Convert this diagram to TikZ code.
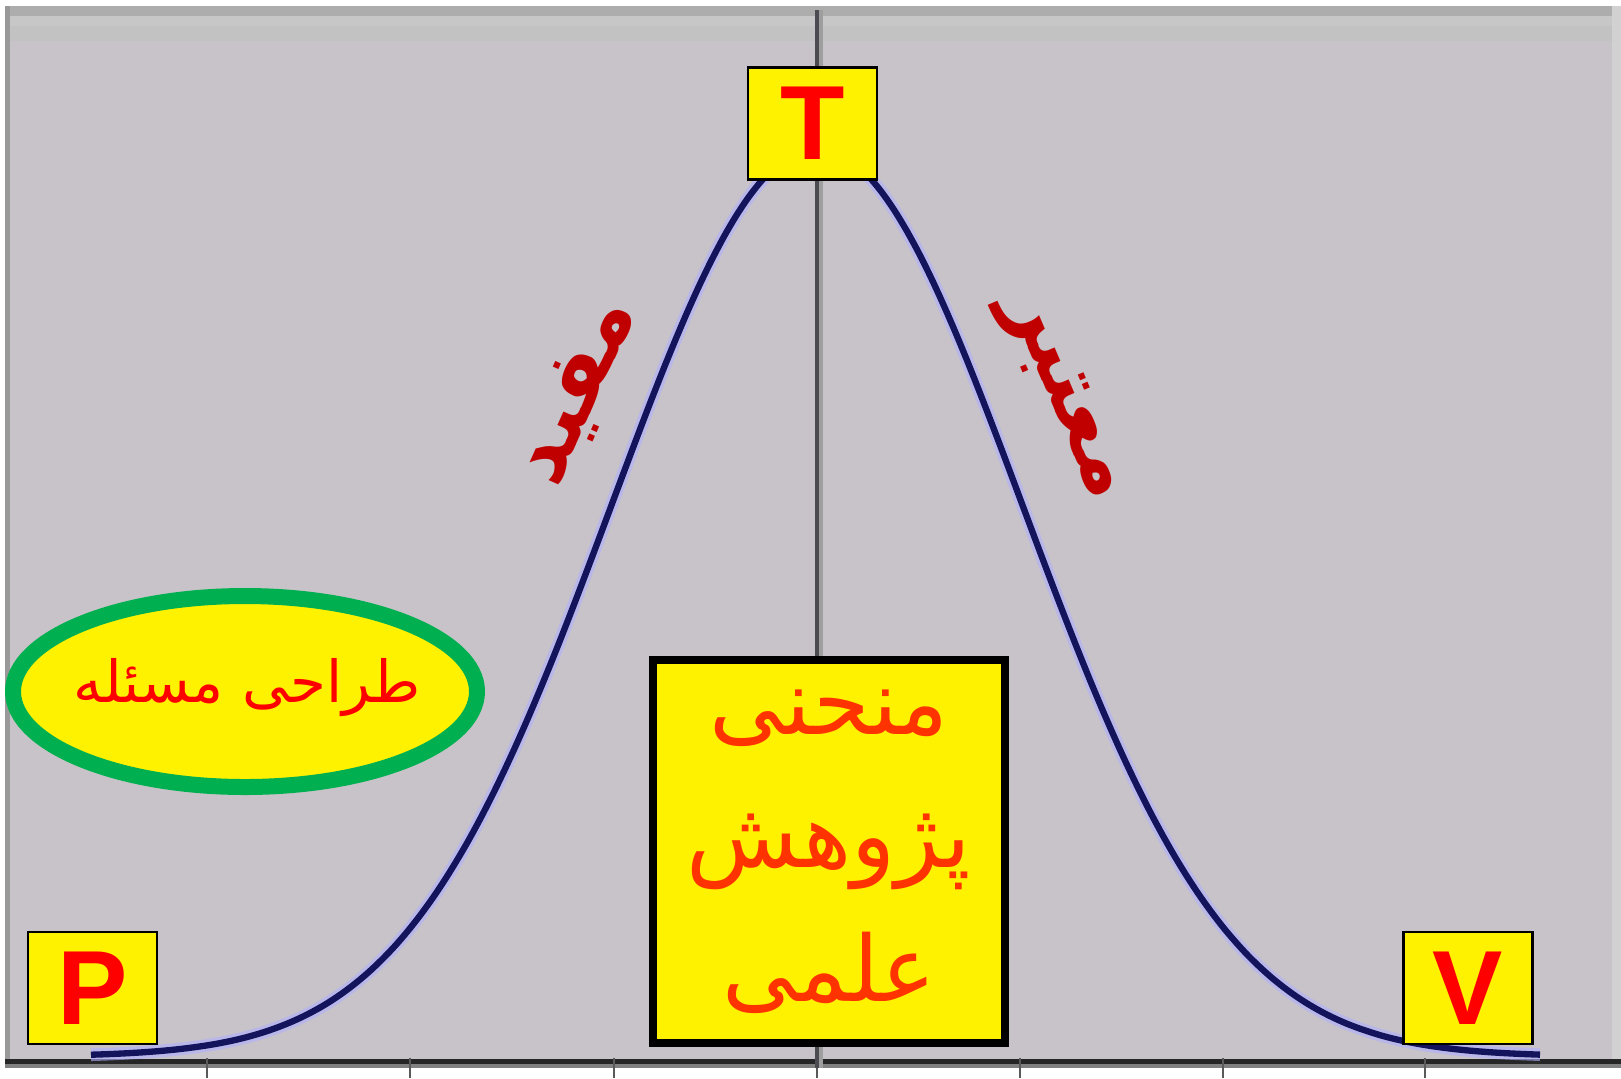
\documentclass[tikz,border=0pt]{standalone}
\usepackage{fontspec}
\usepackage{tikz}
\setmainfont{Liberation Sans}
\newfontfamily\arabicfont[Script=Arabic]{DejaVu Sans}
\TeXXeTstate=1
\definecolor{bggray}{RGB}{199,195,200}
\definecolor{bandgray}{RGB}{173,173,173}
\definecolor{axisgray}{RGB}{128,128,128}
\definecolor{midline}{RGB}{77,75,82}
\definecolor{curvenavy}{RGB}{20,20,92}
\definecolor{halo}{RGB}{176,176,255}
\definecolor{ringgreen}{RGB}{0,176,80}
\definecolor{slopered}{RGB}{192,0,0}
\definecolor{titlered}{RGB}{255,51,0}

\begin{document}
\begin{tikzpicture}[
    x=0.1mm, y=-0.1mm,
    letterbox/.style={rectangle, draw=black, line width=0.7pt, fill=yellow, minimum width=12.9mm, minimum height=11.2mm, inner sep=0pt, text=red, font=\fontsize{30}{30}\selectfont\bfseries},
    titlebox/.style={rectangle, draw=black, line width=2.3pt, fill=yellow, minimum width=35.2mm, minimum height=38.3mm, inner sep=0pt, align=center, text=titlered, font=\arabicfont\fontsize{26}{38}\selectfont},
    ring/.style={draw=ringgreen, line width=4.55pt, fill=yellow},
    problem/.style={inner sep=0pt, text=red, font=\arabicfont\fontsize{16.5}{16.5}\selectfont},
    slope/.style={inner sep=0pt, text=slopered, font=\arabicfont\bfseries\fontsize{24}{24}\selectfont},
    bell/.style={line width=1.8pt, curvenavy, smooth, samples=120},
]
\useasboundingbox (0,0) rectangle (1621,1078);

% Background
\fill[white] (0,0) rectangle (1621,1078);
\fill[bggray] (5,6) rectangle (1612,1059);
\fill[bandgray] (5,6) rectangle (1612,16);
\fill[black!22] (5,16) rectangle (1612,26);
\fill[black!24] (5,26) rectangle (1612,41);
\fill[black!40] (5,6) rectangle (10,1059);
\fill[black!18] (1612,6) rectangle (1621,1059);

% Axis and ticks
\fill[black!85] (5,1059) rectangle (1621,1064);
\fill[axisgray] (5,1064) rectangle (1621,1068);
\foreach \tx in {207,410,614,817,1020,1223,1425}
    \draw[black!65, line width=0.6pt] (\tx,1058) -- (\tx,1078);
\draw[midline, line width=1.1pt] (817,10) -- (817,1068);
\draw[black!38, line width=1.1pt] (821,10) -- (821,1068);

% Curve
\draw[halo, line width=3.6pt, opacity=0.6, smooth, samples=120, domain=91:1540]
    plot (\x, {1056.5 - 908*exp(-((\x-817)/100)^2/8.4616)});
\draw[bell, domain=91:1540]
    plot (\x, {1056.5 - 908*exp(-((\x-817)/100)^2/8.4616)});

% Nodes
\node[letterbox] (top) at (812.5,123.5) {T};
\node[letterbox] (start) at (92.5,988) {P};
\node[letterbox] (finish) at (1468,988) {V};
\node[titlebox] (title) at (829,851.5) {\beginR منحنی\endR\\\beginR پژوهش\endR\\\beginR علمی\endR};
\draw[ring] (245,691.5) ellipse [x radius=232, y radius=95.5];
\node[problem] (design) at (247,688) {\beginR طراحی مسئله\endR};
\node[slope, rotate=66] (useful) at (579,392) {\beginR مفید\endR};
\node[slope, rotate=-67] (valid) at (1061,398) {\beginR معتبر\endR};

\end{tikzpicture}
\end{document}
